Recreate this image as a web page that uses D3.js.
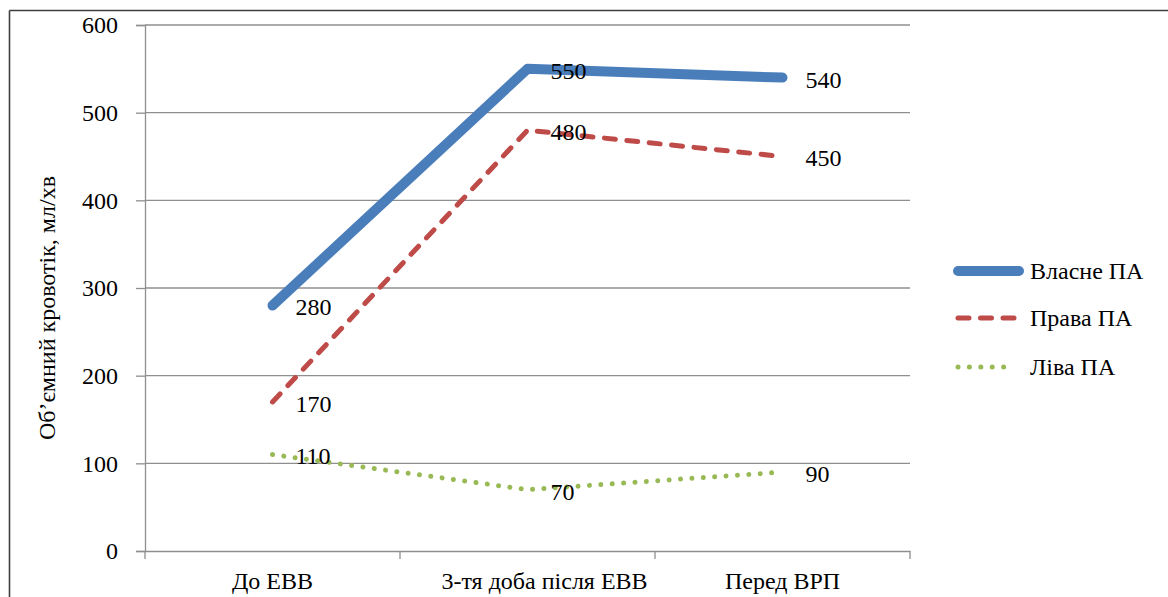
<!DOCTYPE html>
<html>
<head>
<meta charset="utf-8">
<script src="https://cdn.jsdelivr.net/npm/d3@7"></script>
<style>
  html, body { margin: 0; padding: 0; background: #fff; }
</style>
</head>
<body>
<svg id="chart" width="1168" height="597"></svg>
<script>
const categories = ["До ЕВВ", "3-тя доба після ЕВВ", "Перед ВРП"];
const seriesNames = ["Власне ПА", "Права ПА", "Ліва ПА"];
const vlasneValues = [280, 550, 540];
const pravaValues = [170, 480, 450];
const livaValues = [110, 70, 90];
const yTicks = [0, 100, 200, 300, 400, 500, 600];
const yTitle = "Об’ємний кровотік, мл/хв";

const series = [
  { name: seriesNames[0], values: vlasneValues, color: "#4a7ebb", width: 10, dash: null },
  { name: seriesNames[1], values: pravaValues, color: "#be4b48", width: 5, dash: "11,11.5" },
  { name: seriesNames[2], values: livaValues, color: "#98b954", width: 5, dash: "0.01,11.4" }
];

const FONT = "'Liberation Serif', serif";
const fontSize = 24;
const setFont = sel => sel.style("font-family", FONT).style("font-size", fontSize + "px").style("fill", "#000");

const svg = d3.select("#chart");
const plot = { left: 145, right: 910, top: 25, bottom: 551 };

// outer frame (top and left edge visible)
svg.append("line").attr("x1", 9.5).attr("x2", 1168).attr("y1", 10.5).attr("y2", 10.5)
  .attr("stroke", "#3f3f3f").attr("stroke-width", 1.6);
svg.append("line").attr("x1", 9.5).attr("x2", 9.5).attr("y1", 10.5).attr("y2", 597)
  .attr("stroke", "#3f3f3f").attr("stroke-width", 1.6);

const x = d3.scaleBand().domain(categories).range([plot.left, plot.right]).padding(0);
const y = d3.scaleLinear().domain([0, 600]).range([plot.bottom, plot.top]);
const cx = c => x(c) + x.bandwidth() / 2;

// gridlines
svg.append("g").selectAll("line").data(yTicks.filter(t => t > 0)).join("line")
  .attr("x1", plot.left).attr("x2", plot.right)
  .attr("y1", d => y(d)).attr("y2", d => y(d))
  .attr("stroke", "#8f8f8f").attr("stroke-width", 1.3);

// y axis
const yAxis = d3.axisLeft(y).tickValues(yTicks).tickSize(9).tickPadding(18).tickFormat(d3.format("d"));
const gy = svg.append("g").attr("transform", `translate(${plot.left},0)`).call(yAxis);
gy.select(".domain").attr("stroke", "#8f8f8f").attr("stroke-width", 1.3);
gy.selectAll(".tick line").attr("stroke", "#8f8f8f").attr("stroke-width", 1.3);
gy.selectAll(".tick text").call(setFont).attr("dy", "0.33em");

// x axis
const xAxis = d3.axisBottom(x).tickSize(0).tickPadding(0);
const gx = svg.append("g").attr("transform", `translate(0,${plot.bottom})`).call(xAxis);
gx.select(".domain").attr("stroke", "#8f8f8f").attr("stroke-width", 1.3);
gx.selectAll(".tick text").call(setFont)
  .attr("y", 38).attr("dy", 0)
  .attr("dx", (d, i) => i === 1 ? 17 : 0);
// category boundary tick marks
const bounds = categories.map(c => x(c)).concat([plot.right]);
svg.append("g").selectAll("line").data(bounds).join("line")
  .attr("x1", d => d).attr("x2", d => d)
  .attr("y1", plot.bottom).attr("y2", plot.bottom + 8)
  .attr("stroke", "#8f8f8f").attr("stroke-width", 1.3);

// y title
svg.append("text")
  .attr("transform", `translate(55,308) rotate(-90)`)
  .attr("text-anchor", "middle")
  .call(setFont)
  .text(yTitle);

// lines
const line = d3.line().x((d, i) => cx(categories[i])).y(d => y(d));
series.forEach(s => {
  svg.append("path")
    .attr("d", line(s.values))
    .attr("fill", "none")
    .attr("stroke", s.color)
    .attr("stroke-width", s.width)
    .attr("stroke-linecap", "round")
    .attr("stroke-linejoin", "round")
    .attr("stroke-dasharray", s.dash);
});

// data labels
series.forEach(s => {
  svg.append("g").selectAll("text").data(s.values).join("text")
    .attr("x", (d, i) => cx(categories[i]) + 23)
    .attr("y", d => y(d) + 1.5)
    .attr("dy", "0.35em")
    .call(setFont)
    .text(d => d);
});

// legend
const legendY = [271, 318, 367];
series.forEach((s, i) => {
  const g = svg.append("g");
  g.append("line")
    .attr("x1", 958).attr("x2", i === 0 ? 1019 : 1014)
    .attr("y1", legendY[i]).attr("y2", legendY[i])
    .attr("stroke", s.color).attr("stroke-width", s.width)
    .attr("stroke-linecap", "round")
    .attr("stroke-dasharray", s.dash);
  g.append("text")
    .attr("x", 1030).attr("y", legendY[i]).attr("dy", "0.35em")
    .call(setFont)
    .text(s.name);
});
</script>
</body>
</html>
